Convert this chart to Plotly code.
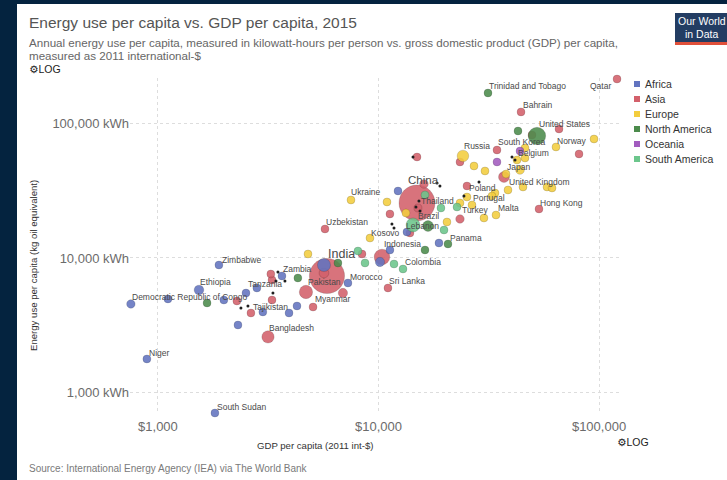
import numpy as np
import plotly.graph_objects as go

# ---------------------------------------------------------------------------
# Energy use vs GDP per capita, 2015
# gdp: GDP per capita (2011 int-$), energy: kWh per person, population: millions
# ---------------------------------------------------------------------------
country = [
    # Asia
    "China", "India", "Indonesia", "Pakistan", "Bangladesh", "Japan", "Philippines",
    "Vietnam", "Iran", "Turkey", "Thailand", "Myanmar", "South Korea", "Uzbekistan",
    "Saudi Arabia", "Malaysia", "Yemen", "Sri Lanka", "Kazakhstan", "Cambodia", "Nepal",
    "Tajikistan", "Kyrgyzstan", "Hong Kong", "Lebanon", "Singapore", "Turkmenistan",
    "Kuwait", "Armenia", "Mongolia", "Qatar", "Bahrain",
    # Africa
    "Nigeria", "Ethiopia", "Egypt", "Democratic Republic of Congo", "South Africa",
    "Tanzania", "Kenya", "Algeria", "Sudan", "Morocco", "Mozambique", "Ghana",
    "Cameroon", "Niger", "Zambia", "Zimbabwe", "South Sudan", "Tunisia", "Benin",
    "Togo", "Botswana",
    # Europe
    "Russia", "Germany", "France", "United Kingdom", "Italy", "Spain", "Ukraine",
    "Poland", "Romania", "Netherlands", "Belgium", "Czech Republic", "Portugal",
    "Sweden", "Hungary", "Switzerland", "Serbia", "Bulgaria", "Denmark", "Norway",
    "Ireland", "Lithuania", "Moldova", "Slovenia", "Kosovo", "Luxembourg", "Malta",
    # North America
    "United States", "Mexico", "Canada", "Guatemala", "Haiti", "Honduras",
    "Costa Rica", "Panama", "Trinidad and Tobago",
    # Oceania
    "Australia", "New Zealand",
    # South America
    "Brazil", "Colombia", "Argentina", "Peru", "Venezuela", "Chile", "Paraguay",
    "Uruguay", "Guyana",
]

region = (["Asia"] * 32 + ["Africa"] * 21 + ["Europe"] * 27 +
          ["North America"] * 9 + ["Oceania"] * 2 + ["South America"] * 9)

gdp = [
    14950, 5840, 10370, 4690, 3155, 37080, 5660,
    6900, 16080, 23420, 15100, 5050, 34460, 5720,
    49690, 25190, 3290, 11040, 23420, 3250, 3290,
    2640, 2280, 53430, 13890, 81170, 14950,
    65850, 8420, 11270, 120700, 44300,
    5660, 1535, 10160, 754, 12260,
    2507, 2810, 13460, 4270, 7270, 1110, 3930,
    2990, 891, 3650, 1890, 1813, 11270, 1990,
    2306, 18800,
    24160, 43820, 37860, 38660, 33750, 32710, 7505,
    25190, 20440, 46170, 42470, 27110, 26550,
    46170, 23420, 58100, 10930, 13320, 45220, 63800,
    61210, 30080, 4790, 30400, 9150, 94900, 34100,
    52330, 16770, 42920, 6550, 1670, 4310,
    16250, 20660, 31380,
    43820, 34460,
    14340, 12920, 19200, 11760, 16250, 22700, 8690,
    19820, 8070,
]

energy = [
    25640, 7350, 10170, 5590, 2590, 40010, 7735,
    5490, 35500, 19500, 23540, 4320, 63530, 16430,
    82140, 34300, 6860, 5985, 51740, 7600, 4870,
    3900, 4790, 23140, 15340, 59330, 56350,
    91000, 10710, 21240, 214000, 121800,
    8870, 5780, 9340, 4550, 31490,
    5490, 5985, 15610, 4400, 6520, 4960, 3900,
    3970, 1775, 7350, 8870, 704, 11470, 4870,
    3176, 12930,
    57340, 45110, 42120, 32030, 30430, 28910, 26990,
    28410, 18520, 55400, 53540, 48310, 24770,
    65760, 25640, 33720, 26090, 21610, 33720, 66900,
    33150, 19830, 10710, 44360, 14080, 76700, 20880,
    80760, 17290, 87950, 9180, 4630, 7100,
    11470, 12710, 168600,
    62440, 51740,
    17600, 8285, 23540, 9025, 29400, 23940, 9180,
    16150, 11270,
]

population = [
    1371, 1309, 258, 189, 161, 127, 101,
    92, 79, 78, 68, 53, 51, 31,
    31, 30, 27, 21, 17, 15, 28,
    8.5, 6, 7.3, 6, 5.5, 5.5,
    4, 3, 3, 2.5, 1.4,
    181, 99, 92, 76, 55,
    53, 47, 40, 40, 34, 28, 27,
    23, 20, 16, 15.6, 12, 11, 10.6,
    7.3, 2.2,
    144, 81, 66, 65, 60, 46, 45,
    38, 20, 17, 11, 10.5, 10.3,
    9.8, 9.8, 8.3, 7, 10, 5.7, 5.2,
    4.7, 2.9, 3.5, 2.1, 1.8, 0.57, 0.43,
    321, 125, 36, 16, 10.7, 9,
    4.8, 4, 1.4,
    24, 4.6,
    205, 48, 43, 31, 30, 18, 6.6,
    3.4, 0.77,
]

# Entities without a region assignment (drawn as small dark dots)
other_gdp = [14340, 18420, 19000, 15260, 14790, 15430, 28560, 24410, 41590,
             40310, 2378, 2559, 3501, 3429, 3766, 3322, 11510, 11760]
other_energy = [56350, 36110, 34300, 26530, 23940, 22360, 36740, 28910, 53540,
                56350, 4249, 4397, 7868, 6745, 6745, 5493, 17890, 16720]

regions_order = ["Africa", "Asia", "Europe", "North America", "Oceania", "South America"]
region_colors = {
    "Africa": "#6274c0",
    "Asia": "#d3606b",
    "Europe": "#f3cd3e",
    "North America": "#4c8b4c",
    "Oceania": "#a25cbf",
    "South America": "#6cc68c",
}
# layering: Asia underneath, the rest on top
draw_order = ["Asia", "Africa", "Europe", "North America", "Oceania", "South America"]

# labelled countries: pixel offset (dx right, dy down) of label's left-middle from the point
label_offsets = {
    "Trinidad and Tobago": (0, -7), "Bahrain": (1, -7), "United States": (1, -12),
    "Norway": (0, -6), "Russia": (0, -10), "South Korea": (0, -8), "Belgium": (0, -7),
    "Japan": (2, -10), "United Kingdom": (0, -8), "Poland": (1, -9), "Portugal": (0, -7),
    "Turkey": (1, -9), "Malta": (1, -7), "Hong Kong": (0, -6), "China": (-10, -23),
    "Thailand": (2, -7), "Brazil": (4, -9), "Lebanon": (-5, -7), "Kosovo": (0, -5),
    "Indonesia": (1, -13), "Panama": (1, -6), "Colombia": (1, -7), "Sri Lanka": (0, -7),
    "Morocco": (1, -6), "India": (0, -22), "Pakistan": (1, -10), "Myanmar": (1, -8),
    "Bangladesh": (0, -9), "Tajikistan": (1, -6), "Zambia": (0, -7), "Tanzania": (1, -9),
    "Zimbabwe": (2, -5), "Ethiopia": (0, -8), "Democratic Republic of Congo": (0, -7),
    "Niger": (1, -6), "South Sudan": (1, -6), "Ukraine": (-1, -8), "Uzbekistan": (0, -7),
}
big_labels = {"China": 11.5, "India": 12.5}

# ---------------------------------------------------------------------------
W, H = 727, 480
ML, MR, MT, MB = 130, 107, 78, 67
PW, PH = W - ML - MR, H - MT - MB


def fx(x):
    return (x - ML) / PW


def fy(y):
    return (H - MB - y) / PH


SANS = "Liberation Sans, Arial, sans-serif"

max_d = 36.0
sizeref = 2.0 * max(population) / max_d ** 2

fig = go.Figure()

for reg in draw_order:
    idx = [i for i, r in enumerate(region) if r == reg]
    idx.sort(key=lambda i: -population[i])
    fig.add_trace(go.Scatter(
        x=[gdp[i] for i in idx],
        y=[energy[i] for i in idx],
        text=[country[i] for i in idx],
        mode="markers",
        name=reg,
        showlegend=False,
        cliponaxis=False,
        hovertemplate="%{text}<extra></extra>",
        marker=dict(
            size=[population[i] for i in idx],
            sizemode="area",
            sizeref=sizeref,
            sizemin=4,
            color=region_colors[reg],
            opacity=0.88,
            line=dict(color="rgba(0,0,0,0.2)", width=0.8),
        ),
    ))

fig.add_trace(go.Scatter(
    x=other_gdp, y=other_energy, mode="markers", showlegend=False,
    hoverinfo="skip", marker=dict(size=3, color="#1e1e1e"),
))

annotations = []
for name, (dx, dy) in label_offsets.items():
    i = country.index(name)
    annotations.append(dict(
        x=np.log10(gdp[i]), y=np.log10(energy[i]), xref="x", yref="y",
        text=name, showarrow=False, xanchor="left", yanchor="middle",
        xshift=dx, yshift=-dy, borderpad=0,
        font=dict(family=SANS, size=big_labels.get(name, 8.5), color="#4a4a4a"),
    ))
qi = country.index("Qatar")
annotations.append(dict(
    x=np.log10(gdp[qi]), y=np.log10(energy[qi]), xref="x", yref="y",
    text="Qatar", showarrow=False, xanchor="right", yanchor="middle", borderpad=0,
    xshift=-5, yshift=-7, font=dict(family=SANS, size=8.5, color="#4a4a4a"),
))

# titles and notes


def paper_text(text, x, y, size, color, xanchor="left", **kw):
    annotations.append(dict(
        x=fx(x), y=fy(y), xref="paper", yref="paper", text=text, showarrow=False,
        xanchor=xanchor, yanchor="middle", borderpad=0,
        font=dict(family=SANS, size=size, color=color), **kw,
    ))


GEAR = "<span style='font-family:DejaVu Sans'><b>⚙</b></span>LOG"

paper_text("Energy use per capita vs. GDP per capita, 2015", 28, 22, 15.5, "#555555")
paper_text("Annual energy use per capita, measured in kilowatt-hours per person vs. gross "
           "domestic product (GDP) per capita,", 28, 42, 11.6, "#666666")
paper_text("measured as 2011 international-$", 28, 55, 11.6, "#666666")
paper_text(GEAR, 28, 69.5, 10.5, "#222222")
paper_text(GEAR, 616, 442, 10.5, "#222222")
paper_text("GDP per capita (2011 int-$)", 315, 445, 9.6, "#333333", xanchor="center")
paper_text("Energy use per capita (kg oil equivalent)", 33, 266, 9.6, "#333333",
           xanchor="center", textangle=-90)
paper_text("Source: International Energy Agency (IEA) via The World Bank", 28, 468, 10,
           "#7a7a7a")

# legend
legend_y = [84, 99, 114, 129, 144, 159]
shapes = []
for reg, ly in zip(regions_order, legend_y):
    shapes.append(dict(type="rect", xref="paper", yref="paper",
                       x0=fx(634), x1=fx(640), y0=fy(ly + 3), y1=fy(ly - 3),
                       fillcolor=region_colors[reg], line=dict(width=0)))
    paper_text(reg, 644, ly, 10.5, "#333333")

# page frame and logo
NAVY = "#04233f"
shapes += [
    dict(type="rect", xref="paper", yref="paper", x0=fx(-2), x1=fx(17), y0=fy(482),
         y1=fy(-2), fillcolor=NAVY, line=dict(width=0), layer="below"),
    dict(type="rect", xref="paper", yref="paper", x0=fx(-2), x1=fx(729), y0=fy(4),
         y1=fy(-2), fillcolor=NAVY, line=dict(width=0), layer="below"),
    dict(type="rect", xref="paper", yref="paper", x0=fx(675), x1=fx(730), y0=fy(42),
         y1=fy(13), fillcolor="#233d63", line=dict(width=0)),
    dict(type="rect", xref="paper", yref="paper", x0=fx(675), x1=fx(730), y0=fy(45),
         y1=fy(42), fillcolor="#e0503a", line=dict(width=0)),
]
paper_text("Our World", 702, 21, 10.5, "#ffffff", xanchor="center")
paper_text("in Data", 701, 34, 10.5, "#ffffff", xanchor="center")

x_range = [np.log10(747), np.log10(124500)]
y_range = [np.log10(704), np.log10(217800)]

fig.update_layout(
    width=W, height=H, autosize=False,
    margin=dict(l=ML, r=MR, t=MT, b=MB, pad=0),
    paper_bgcolor="#ffffff", plot_bgcolor="#ffffff",
    showlegend=False,
    annotations=annotations, shapes=shapes,
    hovermode="closest",
    xaxis=dict(
        type="log", range=x_range, showline=False, zeroline=False, ticks="",
        tickvals=[1000, 10000, 100000], ticktext=["$1,000", "$10,000", "$100,000"],
        tickfont=dict(family=SANS, size=13, color="#6b6b6b"), ticklabelstandoff=4,
        showgrid=True, gridcolor="#dddddd", gridwidth=1, griddash="3px,3px",
    ),
    yaxis=dict(
        type="log", range=y_range, showline=False, zeroline=False, ticks="",
        tickvals=[1000, 10000, 100000], ticktext=["1,000 kWh", "10,000 kWh", "100,000 kWh"],
        tickfont=dict(family=SANS, size=13, color="#6b6b6b"),
        showgrid=True, gridcolor="#dddddd", gridwidth=1, griddash="3px,3px",
    ),
)

fig.write_html("out.html")
